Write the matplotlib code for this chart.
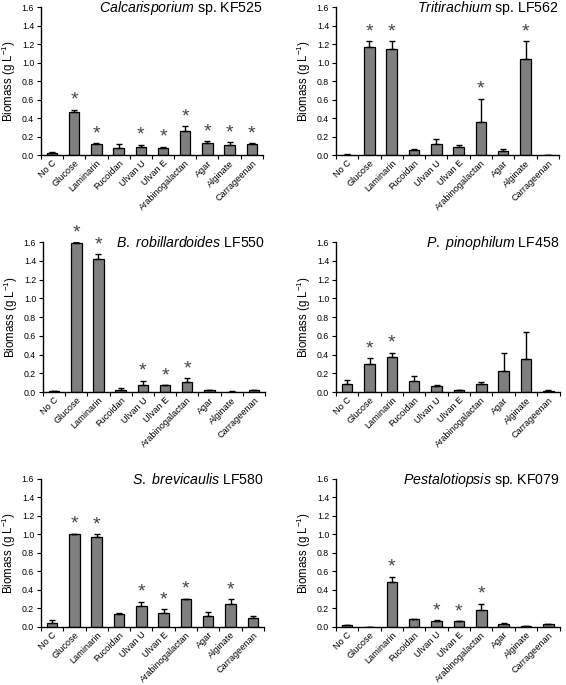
import matplotlib
matplotlib.use("Agg")
import matplotlib.pyplot as plt
import numpy as np

plt.rcParams['font.family'] = ['Liberation Sans', 'DejaVu Sans']
plt.rcParams['mathtext.fontset'] = 'custom'
plt.rcParams['mathtext.rm'] = 'Liberation Sans'
plt.rcParams['mathtext.it'] = 'Liberation Sans:italic'

categories = ["No C", "Glucose", "Laminarin", "Fucoidan", "Ulvan U", "Ulvan E",
              "Arabinogalactan", "Agar", "Alginate", "Carrageenan"]

titles = [("Calcarisporium", " sp. KF525"),
          ("Tritirachium", " sp. LF562"),
          ("B. robillardoides", " LF550"),
          ("P. pinophilum", " LF458"),
          ("S. brevicaulis", " LF580"),
          ("Pestalotiopsis", " sp. KF079")]

kf525_mean = [0.02, 0.47, 0.12, 0.08, 0.09, 0.08, 0.26, 0.13, 0.11, 0.12]
kf525_err = [0.01, 0.02, 0.01, 0.04, 0.02, 0.01, 0.05, 0.02, 0.03, 0.01]
kf525_sig = [0, 1, 1, 0, 1, 1, 1, 1, 1, 1]

lf562_mean = [0.005, 1.17, 1.15, 0.05, 0.12, 0.09, 0.36, 0.04, 1.04, 0.0]
lf562_err = [0.01, 0.06, 0.08, 0.02, 0.05, 0.02, 0.25, 0.03, 0.19, 0.0]
lf562_sig = [0, 1, 1, 0, 0, 0, 1, 0, 1, 0]

lf550_mean = [0.01, 1.59, 1.42, 0.02, 0.08, 0.07, 0.11, 0.02, 0.005, 0.02]
lf550_err = [0.003, 0.005, 0.05, 0.02, 0.04, 0.005, 0.04, 0.005, 0.003, 0.005]
lf550_sig = [0, 1, 1, 0, 1, 1, 1, 0, 0, 0]

lf458_mean = [0.09, 0.30, 0.37, 0.12, 0.06, 0.02, 0.09, 0.22, 0.35, 0.01]
lf458_err = [0.04, 0.06, 0.05, 0.05, 0.015, 0.005, 0.02, 0.20, 0.29, 0.01]
lf458_sig = [0, 1, 1, 0, 0, 0, 0, 0, 0, 0]

lf580_mean = [0.04, 1.00, 0.97, 0.14, 0.23, 0.15, 0.30, 0.12, 0.25, 0.10]
lf580_err = [0.03, 0.005, 0.03, 0.01, 0.04, 0.04, 0.005, 0.04, 0.05, 0.02]
lf580_sig = [0, 1, 1, 0, 1, 1, 1, 0, 1, 0]

kf079_mean = [0.015, 0.0, 0.48, 0.08, 0.06, 0.06, 0.18, 0.03, 0.005, 0.025]
kf079_err = [0.005, 0.0, 0.06, 0.002, 0.01, 0.002, 0.07, 0.01, 0.003, 0.005]
kf079_sig = [0, 0, 1, 0, 1, 1, 1, 0, 0, 0]

means = [kf525_mean, lf562_mean, lf550_mean, lf458_mean, lf580_mean, kf079_mean]
errs = [kf525_err, lf562_err, lf550_err, lf458_err, lf580_err, kf079_err]
sigs = [kf525_sig, lf562_sig, lf550_sig, lf458_sig, lf580_sig, kf079_sig]

positions = [
    [0.0724, 0.7737, 0.392, 0.2160],
    [0.5936, 0.7737, 0.394, 0.2160],
    [0.0760, 0.4277, 0.392, 0.2190],
    [0.5936, 0.4277, 0.395, 0.2190],
    [0.0724, 0.0850, 0.394, 0.2160],
    [0.5936, 0.0850, 0.395, 0.2160],
]

fig = plt.figure(figsize=(5.66, 6.85), dpi=100)
x = np.arange(len(categories))
for i in range(6):
    ax = fig.add_axes(positions[i])
    m = np.array(means[i]); e = np.array(errs[i])
    ax.bar(x, m, width=0.47, color='#7f7f7f', edgecolor='black', linewidth=0.9, zorder=2)
    ax.errorbar(x, m, yerr=[np.zeros_like(e), e], fmt='none', ecolor='black',
                elinewidth=1.0, capsize=2.5, capthick=1.0, zorder=3)
    for xi, mi, ei, s in zip(x, m, e, sigs[i]):
        if s:
            ax.text(xi, mi + ei + 0.01, "*", ha='center', va='bottom',
                    fontsize=14, color='#444444')
    ax.set_xlim(-0.5, 9.45)
    ax.set_ylim(0, 1.6)
    ax.set_yticks(np.arange(0, 1.61, 0.2))
    ax.set_yticklabels([f"{v:.1f}" for v in np.arange(0, 1.61, 0.2)], fontsize=6.3)
    ax.set_xticks(x)
    ax.set_xticklabels(categories, rotation=45, ha='right', rotation_mode='anchor',
                       fontsize=6.6)
    ax.tick_params(axis='x', length=0, pad=2.5)
    ax.set_xticks(np.arange(-0.5, 9.6, 1.0), minor=True)
    ax.tick_params(axis='x', which='minor', length=3, direction='out', width=0.8)
    ax.tick_params(axis='y', length=3, direction='out', width=0.8, pad=2)
    for sp in ['top', 'right']:
        ax.spines[sp].set_visible(False)
    for sp in ['left', 'bottom']:
        ax.spines[sp].set_linewidth(1.0)
    ax.set_ylabel("Biomass (g L$^{-1}$)", fontsize=8.3)
    ax.yaxis.set_label_coords(-0.105, 0.5)
    g, rest = titles[i]
    ax.text(1.0, 0.995, "$\\it{" + g.replace(" ", "\\ ") + "}$" + rest,
            transform=ax.transAxes, ha='right', va='center', fontsize=10.2)

fig.savefig("out.png", dpi=100)
